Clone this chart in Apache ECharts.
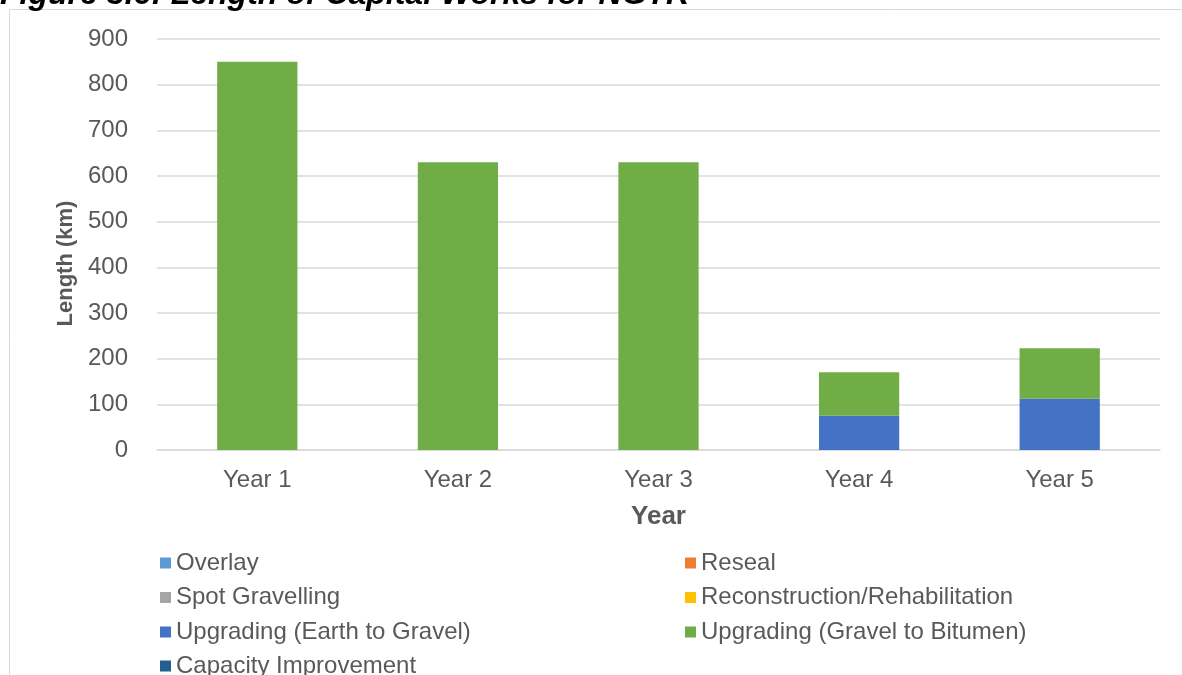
<!DOCTYPE html>
<html>
<head>
<meta charset="utf-8">
<script src="https://cdn.jsdelivr.net/npm/echarts@6/dist/echarts.min.js"></script>
<style>
  html, body { margin: 0; padding: 0; background: #fff; }
  #chart-container { width: 1182px; height: 675px; }
</style>
</head>
<body>
<div id="chart-container"></div>
<script>
// data (km)
const years = ['Year 1', 'Year 2', 'Year 3', 'Year 4', 'Year 5'];
const overlay = [0, 0, 0, 0, 0];
const reseal = [0, 0, 0, 0, 0];
const spotGravelling = [0, 0, 0, 0, 0];
const reconstruction = [0, 0, 0, 0, 0];
const earthToGravel = [0, 0, 0, 75, 112];
const gravelToBitumen = [850, 630, 630, 95, 111];
const capacityImprovement = [0, 0, 0, 0, 0];

const font = 'Arial, "Liberation Sans", sans-serif';
const grey = '#595959';

const chart = echarts.init(document.getElementById('chart-container'));

const bar = (name, data, color) => ({
  name: name,
  type: 'bar',
  stack: 'total',
  data: data,
  barWidth: '40%',
  itemStyle: { color: color },
  emphasis: { disabled: true }
});

// legend is split in pieces so it lays out as two columns like the original
const legendStyle = {
  orient: 'vertical',
  itemWidth: 11,
  itemHeight: 11,
  itemGap: 10.5,
  icon: 'rect',
  textStyle: { fontFamily: font, fontSize: 24, color: grey }
};

var option = {
  backgroundColor: '#fff',
  animation: false,
  graphic: [
    {
      type: 'rect',
      shape: { x: 9.5, y: 9.5, width: 1300, height: 800 },
      style: { fill: null, stroke: '#d9d9d9', lineWidth: 1 },
      silent: true
    },
    {
      type: 'text',
      left: 0,
      top: -21,
      style: {
        text: 'Figure 3.6: Length of Capital Works for NGTR',
        font: 'italic bold 32px Arial, "Liberation Sans", sans-serif',
        fill: '#000'
      },
      silent: true
    }
  ],
  grid: { left: 157, right: 22, top: 39, bottom: 225, containLabel: false },
  legend: [
    Object.assign({ left: 155, top: 546, data: ['Overlay', 'Spot Gravelling', 'Upgrading (Earth to Gravel)'] }, legendStyle),
    Object.assign({ left: 155, top: 649, data: ['Capacity Improvement'] }, legendStyle),
    Object.assign({ left: 680, top: 546, data: ['Reseal', 'Reconstruction/Rehabilitation', 'Upgrading (Gravel to Bitumen)'] }, legendStyle)
  ],
  xAxis: {
    type: 'category',
    data: years,
    name: 'Year',
    nameLocation: 'middle',
    nameGap: 54,
    nameTextStyle: { fontFamily: font, fontSize: 26, fontWeight: 'bold', color: grey },
    axisLine: { lineStyle: { color: '#d9d9d9', width: 1.5 } },
    axisTick: { show: false },
    axisLabel: { fontFamily: font, fontSize: 24, color: grey, margin: 18 }
  },
  yAxis: {
    type: 'value',
    min: 0,
    max: 900,
    interval: 100,
    name: 'Length (km)',
    nameLocation: 'middle',
    nameGap: 80,
    nameTextStyle: { fontFamily: font, fontSize: 22, fontWeight: 'bold', color: grey, padding: [0, 38, 0, 0] },
    axisLine: { show: false },
    axisTick: { show: false },
    axisLabel: { fontFamily: font, fontSize: 24, color: grey, margin: 29 },
    splitLine: { lineStyle: { color: '#d9d9d9', width: 1.5 } }
  },
  series: [
    bar('Overlay', overlay, '#5b9bd5'),
    bar('Reseal', reseal, '#ed7d31'),
    bar('Spot Gravelling', spotGravelling, '#a5a5a5'),
    bar('Reconstruction/Rehabilitation', reconstruction, '#ffc000'),
    bar('Upgrading (Earth to Gravel)', earthToGravel, '#4472c4'),
    bar('Upgrading (Gravel to Bitumen)', gravelToBitumen, '#70ad47'),
    bar('Capacity Improvement', capacityImprovement, '#255e91')
  ]
};

chart.setOption(option);
</script>
</body>
</html>
